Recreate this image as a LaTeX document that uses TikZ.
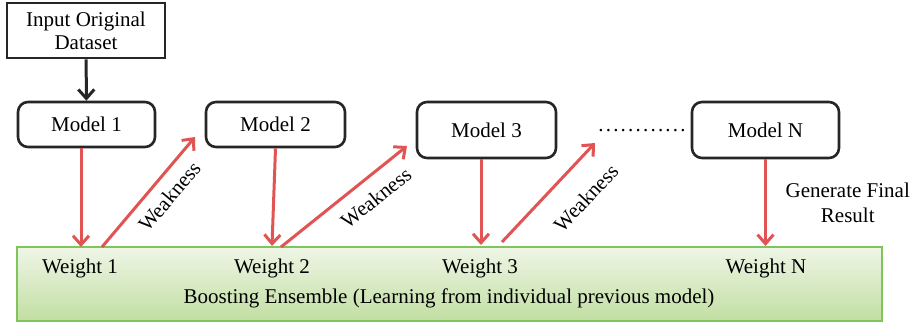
\documentclass[tikz,border=0pt]{standalone}
\usepackage{fontspec}
\setmainfont{Liberation Serif}
\usepackage{xcolor}
\usetikzlibrary{arrows.meta, calc}

\definecolor{arrowred}{HTML}{E05454}
\definecolor{ensline}{HTML}{80C45C}
\definecolor{enstop}{HTML}{EEF6E6}
\definecolor{ensbot}{HTML}{C2DEA2}

\newcommand{\spdots}{.\kern1.1pt.\kern1.1pt.\kern1.1pt.\kern1.1pt.\kern1.1pt.\kern1.1pt.\kern1.1pt.\kern1.1pt.\kern1.1pt.\kern1.1pt.\kern1.1pt.}

\begin{document}
\begin{tikzpicture}[
    x=0.5pt, y=-0.5pt,
    every node/.style={font=\fontsize{10.5}{12.5}\selectfont},
    inbox/.style={rectangle, draw=black!85, line width=1.3pt, align=center,
                  minimum width=79pt, minimum height=27.5pt, inner sep=1pt},
    modelbox/.style={rectangle, draw=black!85, rounded corners=5pt, line width=1.3pt,
                     align=center, fill=white, minimum height=22.5pt, inner sep=2pt},
    ensbox/.style={rectangle, draw=ensline, line width=1.1pt, top color=enstop,
                   bottom color=ensbot, minimum width=432.5pt, minimum height=37pt},
    redarrow/.style={-{Straight Barb[length=4.5pt, width=8pt]}, line width=1.5pt, draw=arrowred},
    blackarrow/.style={-{Straight Barb[length=4.5pt, width=8pt]}, line width=1.5pt, draw=black!85},
    wlbl/.style={sloped, below}
]
\useasboundingbox (0,0) rectangle (911,326);

% === Input and models ===
\node[inbox] (input) at (86,30.5) {Input Original\\[-1pt]Dataset};

\node[modelbox, minimum width=68.5pt] (m1) at (86.5,124.5) {Model 1};
\node[modelbox, minimum width=69.5pt] (m2) at (275.5,124.5) {Model 2};
\node[modelbox, minimum width=69.5pt, minimum height=28pt] (m3) at (486.5,130) {Model 3};
\node[modelbox, minimum width=73.5pt, minimum height=28pt] (mN) at (765.5,130) {Model N};
\node[inner sep=0pt] (dots) at (642,131) {\spdots};

\draw[blackarrow] (input) -- (m1);

% === Boosting ensemble ===
\node[ensbox] (ens) at (449.5,284) {};
\node (w1) at (80,268) {Weight 1};
\node (w2) at (272,268) {Weight 2};
\node (w3) at (480,268) {Weight 3};
\node (wN) at (766,268) {Weight N};
\node (boost) at (449,298) {Boosting Ensemble (Learning from individual previous model)};

% === Model -> weight ===
\draw[redarrow] (m1.south -| 81,0) -- (81,247);
\draw[redarrow] (m2.south) -- (w2.north |- ens.north);
\draw[redarrow] (m3.south -| 481,0) -- (481,245);
\draw[redarrow] (mN.south) -- (mN.south |- ens.north)
    node[midway, right=6pt, align=center] {Generate Final\\Result};

% === Weakness feedback ===
\coordinate (k1s) at (102,247);
\coordinate (k1e) at (195,137);
\coordinate (k2s) at (281,247);
\coordinate (k2e) at (407,146);
\coordinate (k3s) at (502,242);
\coordinate (k3e) at (595,143);

\draw[redarrow] (k1s) -- node[wlbl, pos=0.57, inner sep=5pt] {Weakness} (k1e);
\draw[redarrow] (k2s) -- node[wlbl, pos=0.65, inner sep=6pt] {Weakness} (k2e);
\draw[redarrow] (k3s) -- node[wlbl, pos=0.66, inner sep=11pt] {Weakness} (k3e);

\end{tikzpicture}
\end{document}
